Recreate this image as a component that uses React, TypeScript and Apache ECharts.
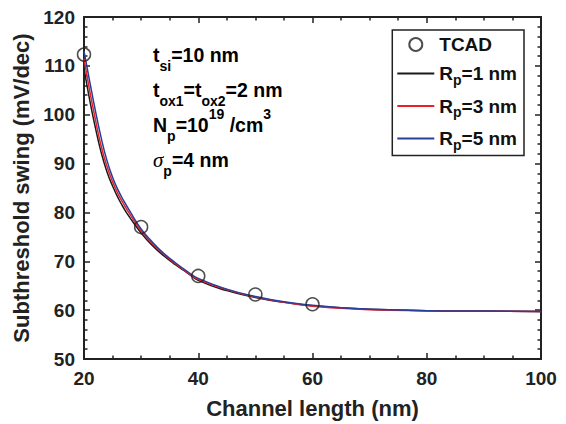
import React, { useEffect, useRef } from "react";
import * as echarts from "echarts";

const X_CURVE = [20, 21, 22, 23, 24, 25, 26, 27, 28, 30, 32, 34, 36, 38, 40, 45, 50, 55, 60, 65, 70, 80, 90, 100];
const RP1 = [109.5, 103.0, 97.3, 92.3, 88.4, 85.4, 82.9, 80.8, 79.0, 75.8, 73.2, 71.1, 69.3, 67.7, 66.1, 64.0, 62.6, 61.6, 60.9, 60.5, 60.2, 59.9, 59.8, 59.7];
const RP3 = [111.5, 104.9, 99.0, 93.6, 89.5, 86.3, 83.7, 81.6, 79.7, 76.2, 73.6, 71.4, 69.5, 67.8, 66.3, 64.2, 62.7, 61.6, 60.8, 60.4, 60.1, 59.9, 59.8, 59.7];
const RP5 = [113.0, 106.8, 100.8, 95.3, 90.7, 87.2, 84.5, 82.3, 80.3, 76.6, 73.9, 71.6, 69.7, 68.0, 66.5, 64.3, 62.8, 61.7, 61.0, 60.5, 60.2, 59.9, 59.8, 59.7];
const X_TCAD = [20, 30, 40, 50, 60];
const Y_TCAD = [112.3, 77, 67, 63.2, 61.2];

const SERIES_NAMES = ["TCAD", "Rp=1 nm", "Rp=3 nm", "Rp=5 nm"];
const LEGEND_LABELS: Record<string, string> = {
  "TCAD": "{c|TCAD}",
  "Rp=1 nm": "{r|R}{s|p}{r|=1 nm}",
  "Rp=3 nm": "{r|R}{s|p}{r|=3 nm}",
  "Rp=5 nm": "{r|R}{s|p}{r|=5 nm}",
};

const FONT = "Liberation Sans";
const INK = "#222222";

const pairs = (xs: number[], ys: number[]) => xs.map((x, i) => [x, ys[i]]);

export default function App() {
  const ref = useRef<HTMLDivElement>(null);
  useEffect(() => {
    if (!ref.current) return;
    const chart = echarts.init(ref.current, null, { renderer: "svg" });
    const axisLine = { show: true, onZero: false, lineStyle: { color: INK, width: 2 } };
    const axisTick = { show: true, inside: true, length: 6, lineStyle: { color: INK, width: 1.5 } };
    const minorTickX = { show: true, splitNumber: 4, length: 3.5, lineStyle: { color: INK, width: 1.5 } };
    const minorTickY = { show: true, splitNumber: 5, length: 3.5, lineStyle: { color: INK, width: 1.5 } };
    const labelStyle = { fontSize: 19, fontWeight: "bold", color: INK, fontFamily: FONT };
    const nameStyle = { fontSize: 22, fontWeight: "bold", color: INK, fontFamily: FONT };
    const m = { fontSize: 19.5, fontWeight: "bold", fontFamily: FONT, color: "#111", lineHeight: 36 };
    const s = { fontSize: 14, fontWeight: "bold", fontFamily: FONT, color: "#111", lineHeight: 16, verticalAlign: "bottom" };
    const sup = { fontSize: 14, fontWeight: "bold", fontFamily: FONT, color: "#111", lineHeight: 20, verticalAlign: "top" };
    const g = { fontSize: 21, fontStyle: "italic", fontFamily: "Liberation Serif", color: "#111", lineHeight: 36 };
    const rich = { m, s, sup, g };
    const annot = (y: number, text: string) => ({
      type: "text",
      x: 153,
      y,
      style: { text, rich, verticalAlign: "middle", align: "left" },
    });
    chart.setOption({
      animation: false,
      backgroundColor: "#ffffff",
      grid: { left: 84, right: 25, top: 17, bottom: 63, containLabel: false },
      xAxis: [
        {
          type: "value", min: 20, max: 100, interval: 20, position: "bottom",
          axisLine, axisTick, minorTick: minorTickX, splitLine: { show: false },
          axisLabel: { ...labelStyle, margin: 10 },
          name: "Channel length (nm)", nameLocation: "middle", nameGap: 38, nameTextStyle: nameStyle,
        },
        {
          type: "value", min: 20, max: 100, interval: 20, position: "top",
          axisLine, axisTick, minorTick: minorTickX, splitLine: { show: false },
          axisLabel: { show: false },
        },
      ],
      yAxis: [
        {
          type: "value", min: 50, max: 120, interval: 10, position: "left",
          axisLine, axisTick, minorTick: minorTickY, splitLine: { show: false },
          axisLabel: { ...labelStyle, margin: 9 },
          name: "Subthreshold swing (mV/dec)", nameLocation: "middle", nameGap: 51, nameTextStyle: nameStyle,
        },
        {
          type: "value", min: 50, max: 120, interval: 10, position: "right",
          axisLine, axisTick, minorTick: minorTickY, splitLine: { show: false },
          axisLabel: { show: false },
        },
      ],
      legend: {
        orient: "vertical",
        right: 42,
        top: 30,
        itemWidth: 37,
        itemHeight: 13,
        itemGap: 10,
        padding: [5, 7, 4, 4],
        borderColor: INK,
        borderWidth: 1.5,
        backgroundColor: "#ffffff",
        data: [
          { name: SERIES_NAMES[0] },
          { name: SERIES_NAMES[1], itemStyle: { opacity: 0 } },
          { name: SERIES_NAMES[2], itemStyle: { opacity: 0 } },
          { name: SERIES_NAMES[3], itemStyle: { opacity: 0 } },
        ],
        formatter: (name: string) => LEGEND_LABELS[name] || name,
        textStyle: {
          rich: {
            c: { fontSize: 19, fontWeight: "bold", fontFamily: FONT, color: "#111", lineHeight: 26 },
            r: { fontSize: 19, fontWeight: "bold", fontFamily: FONT, color: "#111", lineHeight: 26 },
            s: { fontSize: 14, fontWeight: "bold", fontFamily: FONT, color: "#111", lineHeight: 10, verticalAlign: "bottom" },
          },
        },
      },
      graphic: [
        annot(55, "{m|t}{s|si}{m|=10 nm}"),
        annot(90, "{m|t}{s|ox1}{m|=t}{s|ox2}{m|=2 nm}"),
        annot(125, "{m|N}{s|p}{m|=10}{sup|19}{m| /cm}{sup|3}"),
        annot(160, "{g|σ}{s|p}{m|=4 nm}"),
      ],
      series: [
        {
          name: SERIES_NAMES[1], type: "line", data: pairs(X_CURVE, RP1), smooth: true, symbol: "none",
          lineStyle: { color: "#1a1a1a", width: 1.5 }, itemStyle: { color: "#1a1a1a" }, z: 2,
        },
        {
          name: SERIES_NAMES[2], type: "line", data: pairs(X_CURVE, RP3), smooth: true, symbol: "none",
          lineStyle: { color: "#e8202a", width: 1.5 }, itemStyle: { color: "#e8202a" }, z: 3,
        },
        {
          name: SERIES_NAMES[3], type: "line", data: pairs(X_CURVE, RP5), smooth: true, symbol: "none",
          lineStyle: { color: "#2a3f9a", width: 1.5 }, itemStyle: { color: "#2a3f9a" }, z: 4,
        },
        {
          name: SERIES_NAMES[0], type: "scatter", data: pairs(X_TCAD, Y_TCAD), symbol: "circle", symbolSize: 13,
          itemStyle: { color: "rgba(0,0,0,0)", borderColor: INK, borderWidth: 1.5 }, z: 5,
        },
      ],
    });
    return () => chart.dispose();
  }, []);
  return (
    <div
      ref={ref}
      style={{ position: "absolute", left: 0, top: 0, width: 566, height: 424, background: "#fff" }}
    />
  );
}
